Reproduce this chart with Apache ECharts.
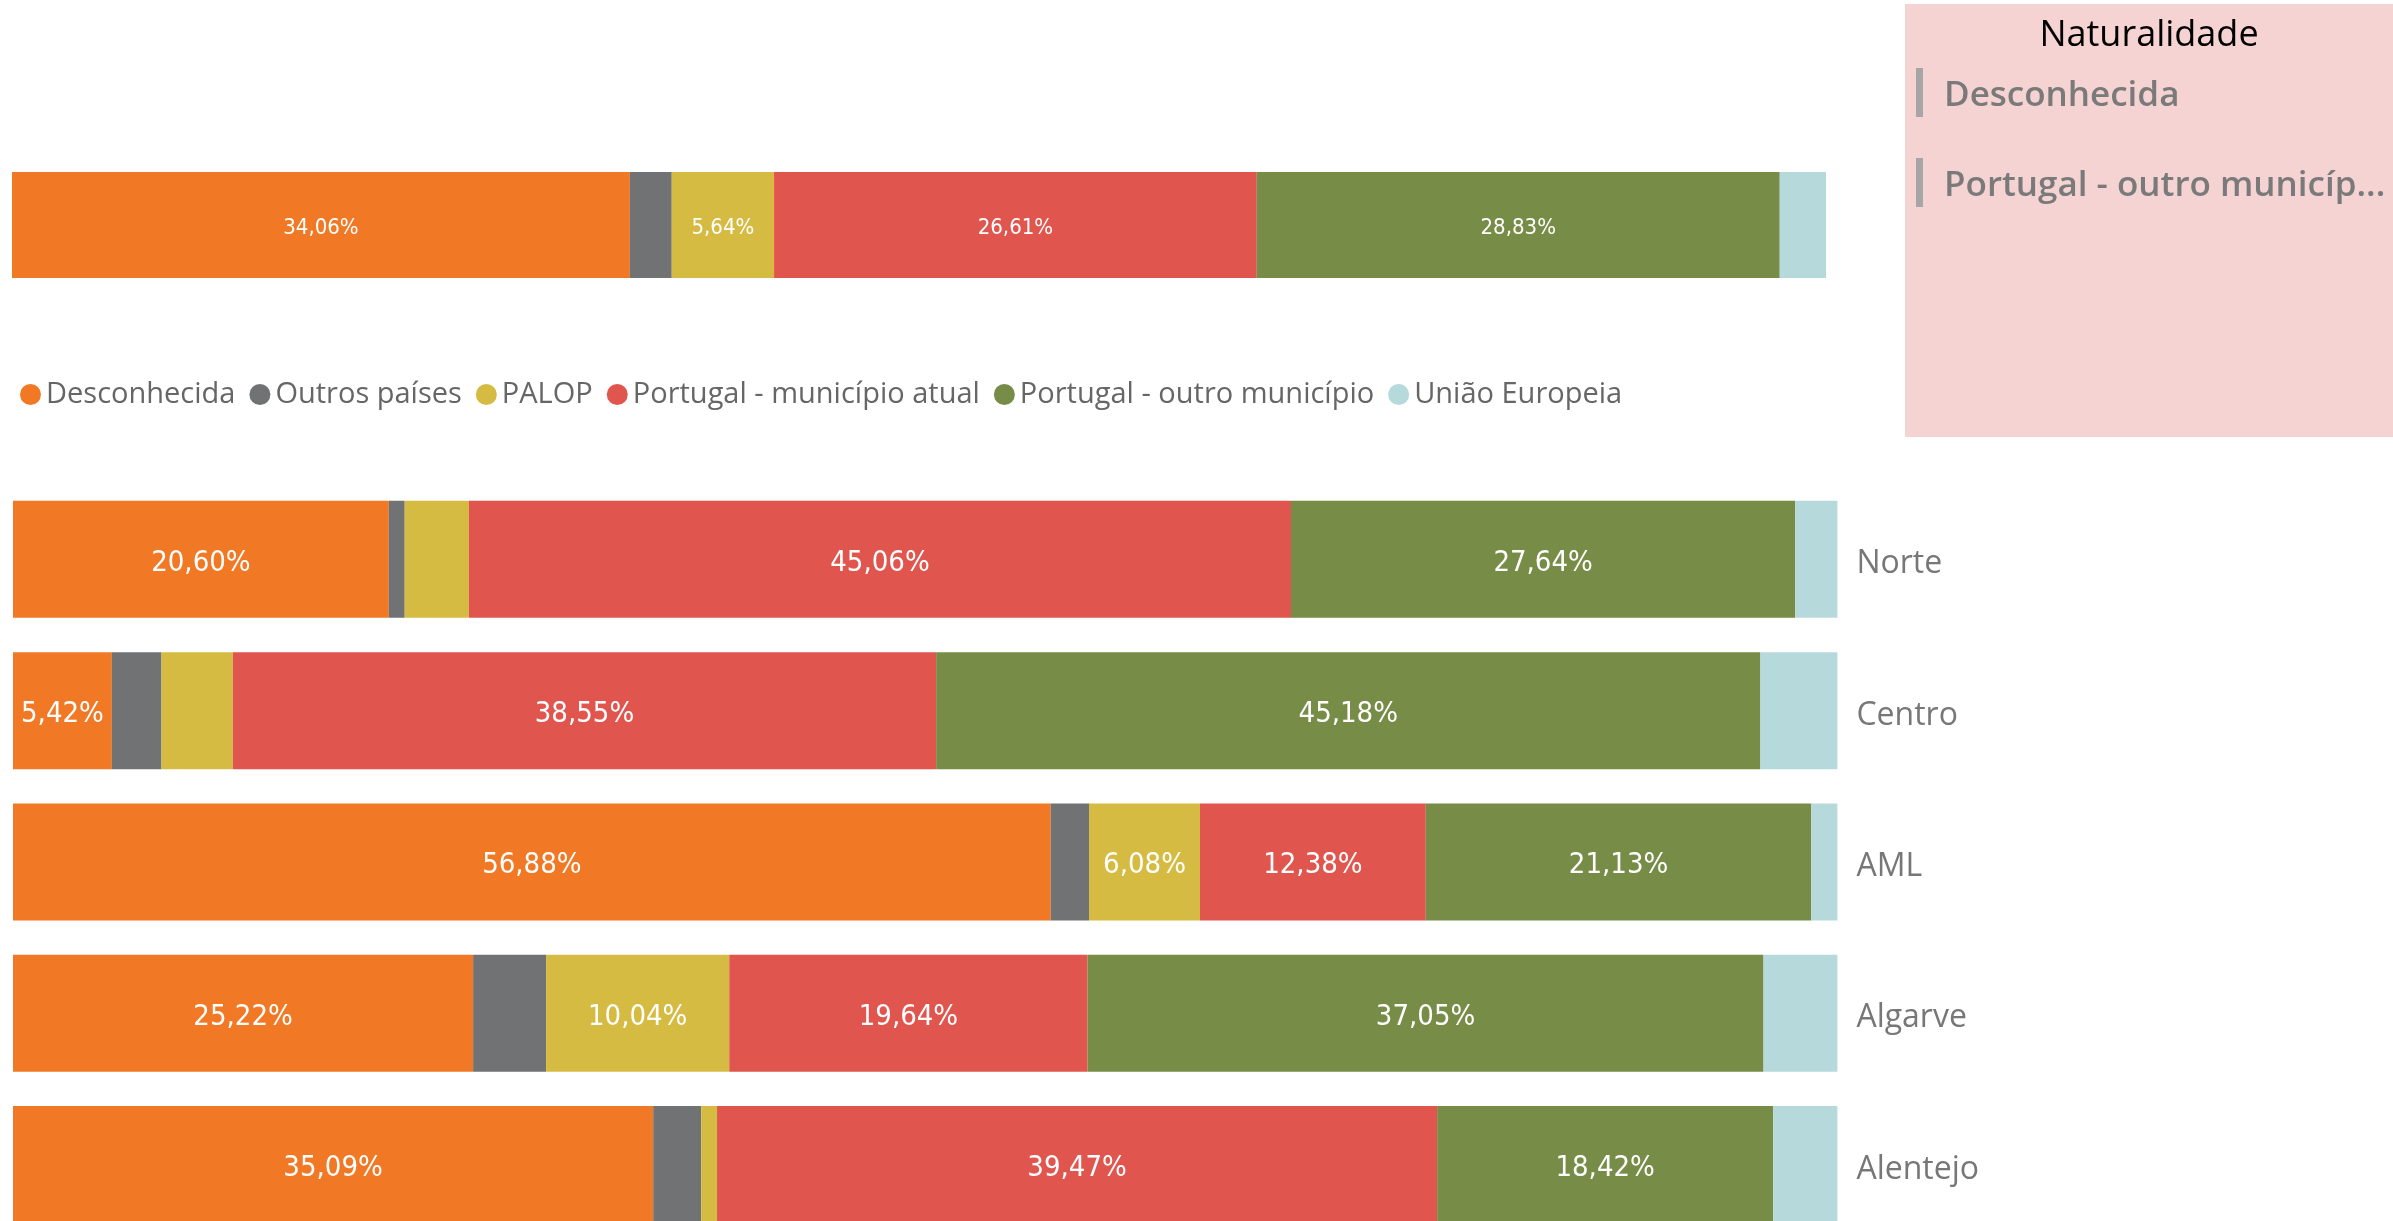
<!DOCTYPE html>
<html>
<head>
<meta charset="utf-8">
<script src="https://cdn.jsdelivr.net/npm/echarts@6/dist/echarts.min.js"></script>
<style>
  html, body { margin: 0; padding: 0; background: #ffffff; }
  #chart { width: 2393px; height: 1221px; }
</style>
</head>
<body>
<div id="chart"></div>
<script>
// Regions (NUTS II) shown in the lower stacked bars
const regions = ['Norte', 'Centro', 'AML', 'Algarve', 'Alentejo'];

// Origin groups (stack order, left to right)
const groupNames = ['Desconhecida', 'Outros países', 'PALOP', 'Portugal - município atual', 'Portugal - outro município', 'União Europeia'];
const groupColors = ['#F17925', '#717273', '#D6BB43', '#E0564E', '#778C46', '#B6D9DC'];

// National total, one value per origin group (%)
const nationalTotal = [34.06, 2.31, 5.64, 26.61, 28.83, 2.55];

// Share per region (%), one array per origin group
const desconhecida   = [20.60,  5.42, 56.88, 25.22, 35.09];
const outrosPaises   = [ 0.87,  2.72,  2.10,  4.00,  2.63];
const palop          = [ 3.52,  3.91,  6.08, 10.04,  0.87];
const municipioAtual = [45.06, 38.55, 12.38, 19.64, 39.47];
const outroMunicipio = [27.64, 45.18, 21.13, 37.05, 18.42];
const uniaoEuropeia  = [ 2.31,  4.22,  1.43,  4.05,  3.52];

const regionalShares = [desconhecida, outrosPaises, palop, municipioAtual, outroMunicipio, uniaoEuropeia];

// Slicer panel (selected items, as shown in the narrow panel)
const slicerTitle = 'Naturalidade';
const slicerItems = ['Desconhecida', 'Portugal - outro municíp...'];

const valueFont = "'DejaVu Sans Condensed', 'Liberation Sans Narrow', 'Roboto', sans-serif";
const uiFont = "'Segoe UI', 'Open Sans', 'Noto Sans', sans-serif";

function pct(v) {
  return v.toFixed(2).replace('.', ',') + '%';
}
function labelFmt(p) {
  return p.value >= 5 ? pct(p.value) : '';
}

const series = [];
groupNames.forEach((name, i) => {
  series.push({
    name: name,
    type: 'bar',
    stack: 'total',
    xAxisIndex: 0,
    yAxisIndex: 0,
    barCategoryGap: 0,
    itemStyle: { color: groupColors[i] },
    label: {
      show: true, position: 'inside', color: '#ffffff', offset: [0, 3],
      fontFamily: valueFont, fontSize: 22, formatter: labelFmt
    },
    emphasis: { disabled: true },
    data: [nationalTotal[i]]
  });
});
groupNames.forEach((name, i) => {
  series.push({
    name: name,
    type: 'bar',
    stack: 'regional',
    xAxisIndex: 1,
    yAxisIndex: 1,
    barCategoryGap: '22.7%',
    itemStyle: { color: groupColors[i] },
    label: {
      show: true, position: 'inside', color: '#ffffff', offset: [0, 4],
      fontFamily: valueFont, fontSize: 29, formatter: labelFmt
    },
    emphasis: { disabled: true },
    data: regionalShares[i]
  });
});

const slicerGraphics = [
  {
    type: 'rect', left: 1905, top: 4,
    shape: { width: 488, height: 433 },
    style: { fill: '#F5D3D2' }, silent: true
  },
  {
    type: 'text', x: 2149, y: 36,
    style: {
      text: slicerTitle, fill: '#000000', font: "36px " + uiFont,
      align: 'center', verticalAlign: 'middle'
    }
  }
];
slicerItems.forEach((t, k) => {
  const cy = 92 + k * 90;
  slicerGraphics.push({
    type: 'rect', left: 1916, top: cy - 24,
    shape: { width: 7, height: 49 },
    style: { fill: '#A6A6A6' }
  });
  slicerGraphics.push({
    type: 'text', x: 1944, y: cy + 4,
    style: {
      text: t, fill: '#7A7A7A', font: "600 35px " + uiFont,
      verticalAlign: 'middle'
    }
  });
});

const option = {
  animation: false,
  backgroundColor: '#ffffff',
  grid: [
    { left: 12, width: 1814, top: 172, height: 106, outerBoundsMode: 'none' },
    { left: 13, width: 1824.4, top: 483.7, height: 756.5, outerBoundsMode: 'none' }
  ],
  xAxis: [
    { gridIndex: 0, type: 'value', min: 0, max: 100, show: false },
    { gridIndex: 1, type: 'value', min: 0, max: 100, show: false }
  ],
  yAxis: [
    { gridIndex: 0, type: 'category', data: [''], show: false },
    {
      gridIndex: 1, type: 'category', data: regions, inverse: true, position: 'right',
      axisLine: { show: false }, axisTick: { show: false },
      axisLabel: {
        margin: 19,
        formatter: v => '{r|' + v + '}',
        rich: {
          r: { color: '#777777', fontFamily: uiFont, fontSize: 32, padding: [10, 0, 0, 0] }
        }
      }
    }
  ],
  legend: {
    data: groupNames.map(n => ({ name: n, icon: 'circle' })),
    left: 15, top: 375,
    itemWidth: 21, itemHeight: 21, itemGap: 14,
    textStyle: { color: '#666666', fontFamily: uiFont, fontSize: 29 },
    selectedMode: false
  },
  tooltip: { show: false },
  series: series,
  graphic: slicerGraphics
};

const chart = echarts.init(document.getElementById('chart'), null, { renderer: 'canvas' });
chart.setOption(option);
</script>
</body>
</html>
